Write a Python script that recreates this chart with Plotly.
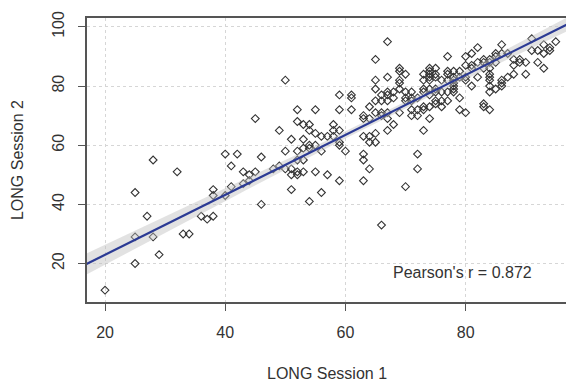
import numpy as np
import plotly.graph_objects as go

# ---- data ----
session1 = [20,25,25,25,27,28,28,29,32,33,34,36,37,38,38,38,40,40,41,41,42,43,43,44,45,44,45,46,46,
            48,49,49,50,50,50,51,51,51,51,52,52,52,52,52,52,
            53,53,53,53,53,54,54,54,54,54,55,55,55,55,56,56,56,57,57,58,58,58,
            59,59,59,59,59,59,60,61,61,61,63,63,63,63,63,63,64,64,64,64,64,
            65,65,65,65,65,65,65,66,66,66,66,66,67,67,67,67,67,67,67,67,68,68,68,69,69,69,69,69,69,70,70,70,70,70,
            71,71,71,71,71,72,72,72,72,72,73,73,73,73,73,73,73,74,74,74,74,74,74,74,74,74,75,75,75,75,75,75,75,76,76,76,76,
            77,77,77,77,77,77,78,78,78,78,78,78,78,79,79,79,79,80,80,80,80,80,81,81,81,81,82,82,82,
            83,83,83,83,83,84,84,84,84,84,84,84,84,84,85,85,85,85,86,86,86,86,86,87,87,88,88,88,
            89,89,90,90,91,91,92,92,93,93,93,94,94,95]
session2 = [11,44,29,20,36,55,29,23,51,30,30,36,35,36,45,43,43,57,53,46,57,51,47,50,51,48,69,56,40,
            52,53,65,82,58,52,62,50,45,52,72,68,58,55,51,50,
            67,62,59,51,55,67,65,59,60,41,72,64,60,51,63,58,44,63,50,67,63,65,
            77,72,65,60,48,61,58,77,76,72,70,69,63,57,55,48,73,69,61,52,63,
            89,82,79,75,71,64,61,75,71,70,77,33,95,83,78,77,75,71,69,65,78,76,67,86,85,82,81,79,71,84,78,76,75,46,
            78,76,75,72,70,76,72,70,57,52,84,82,79,78,73,72,65,86,85,84,83,82,79,77,73,69,86,84,83,79,78,75,74,82,78,75,73,
            90,85,84,82,78,75,85,83,82,81,80,79,78,85,83,76,72,90,87,83,82,71,91,87,86,80,93,88,83,
            89,88,86,74,73,89,88,86,84,83,82,80,78,72,91,90,88,79,94,91,82,81,80,91,83,89,87,84,
            89,88,88,84,96,92,92,88,91,86,94,93,92,95]
fit_intercept = 2.7      # fitted line as drawn in the reference
fit_slope = 1.013
x_ticks = [20, 40, 60, 80]
y_ticks = [20, 40, 60, 80, 100]
pearson_label = "Pearson's r = 0.872"
x_title = "LONG Session 1"
y_title = "LONG Session 2"

x = np.array(session1, dtype=float)
y = np.array(session2, dtype=float)
n = len(x)
xg = np.linspace(16, 98, 100)
yg = fit_intercept + fit_slope * xg
resid = y - (fit_intercept + fit_slope * x)
s = np.sqrt(np.sum(resid ** 2) / (n - 2))
xbar = x.mean()
sxx = np.sum((x - xbar) ** 2)
se = s * np.sqrt(1.0 / n + (xg - xbar) ** 2 / sxx)
t = 1.97
upper = yg + t * se
lower = yg - t * se

TXT = "#333333"
fig = go.Figure()
fig.add_trace(go.Scatter(x=x, y=y, mode="markers",
                         marker=dict(symbol="diamond-open", size=6, color="#333333",
                                     line=dict(width=1.1, color="#333333")),
                         showlegend=False, hoverinfo="skip"))
fig.add_trace(go.Scatter(x=np.concatenate([xg, xg[::-1]]), y=np.concatenate([upper, lower[::-1]]),
                         fill="toself", fillcolor="rgba(190,190,190,0.45)", line=dict(width=0),
                         mode="lines", showlegend=False, hoverinfo="skip"))
fig.add_trace(go.Scatter(x=xg, y=yg, mode="lines", line=dict(color="#2b3a94", width=2.2),
                         showlegend=False, hoverinfo="skip"))

fig.add_annotation(x=79.4, y=17.0, text=pearson_label, showarrow=False,
                   font=dict(size=16, color=TXT))
fig.add_annotation(xref="paper", yref="paper", x=0.5, y=-0.25, text=x_title, showarrow=False,
                   xanchor="center", yanchor="middle", font=dict(size=16, color=TXT))
fig.add_annotation(xref="paper", yref="paper", x=-0.146, y=0.5, text=y_title, showarrow=False,
                   textangle=-90, xanchor="center", yanchor="middle", font=dict(size=16, color=TXT))

axis_common = dict(showline=True, linecolor="#555555", linewidth=1.5, ticks="outside",
                   ticklen=7, tickcolor="#555555", tickwidth=1.2, automargin=False,
                   showgrid=True, gridcolor="#d6d6d6", griddash="dot", gridwidth=1,
                   zeroline=False, tickfont=dict(size=16, color=TXT))

fig.update_xaxes(range=[17.0, 96.7], tickvals=x_ticks, mirror=True, ticklabelstandoff=8,
                 **axis_common)
fig.update_yaxes(range=[7.0, 103.0], tickvals=y_ticks, tickangle=-90, ticklabelstandoff=8,
                 **axis_common)

fig.update_layout(width=566, height=381, margin=dict(l=87, r=0, t=18, b=79),
                  plot_bgcolor="white", paper_bgcolor="white",
                  font=dict(family="Liberation Sans, Arial", color=TXT))

fig.write_html("out.html", config={"displayModeBar": False},
               post_script="document.body.style.margin='0px';document.body.style.overflow='hidden';")
